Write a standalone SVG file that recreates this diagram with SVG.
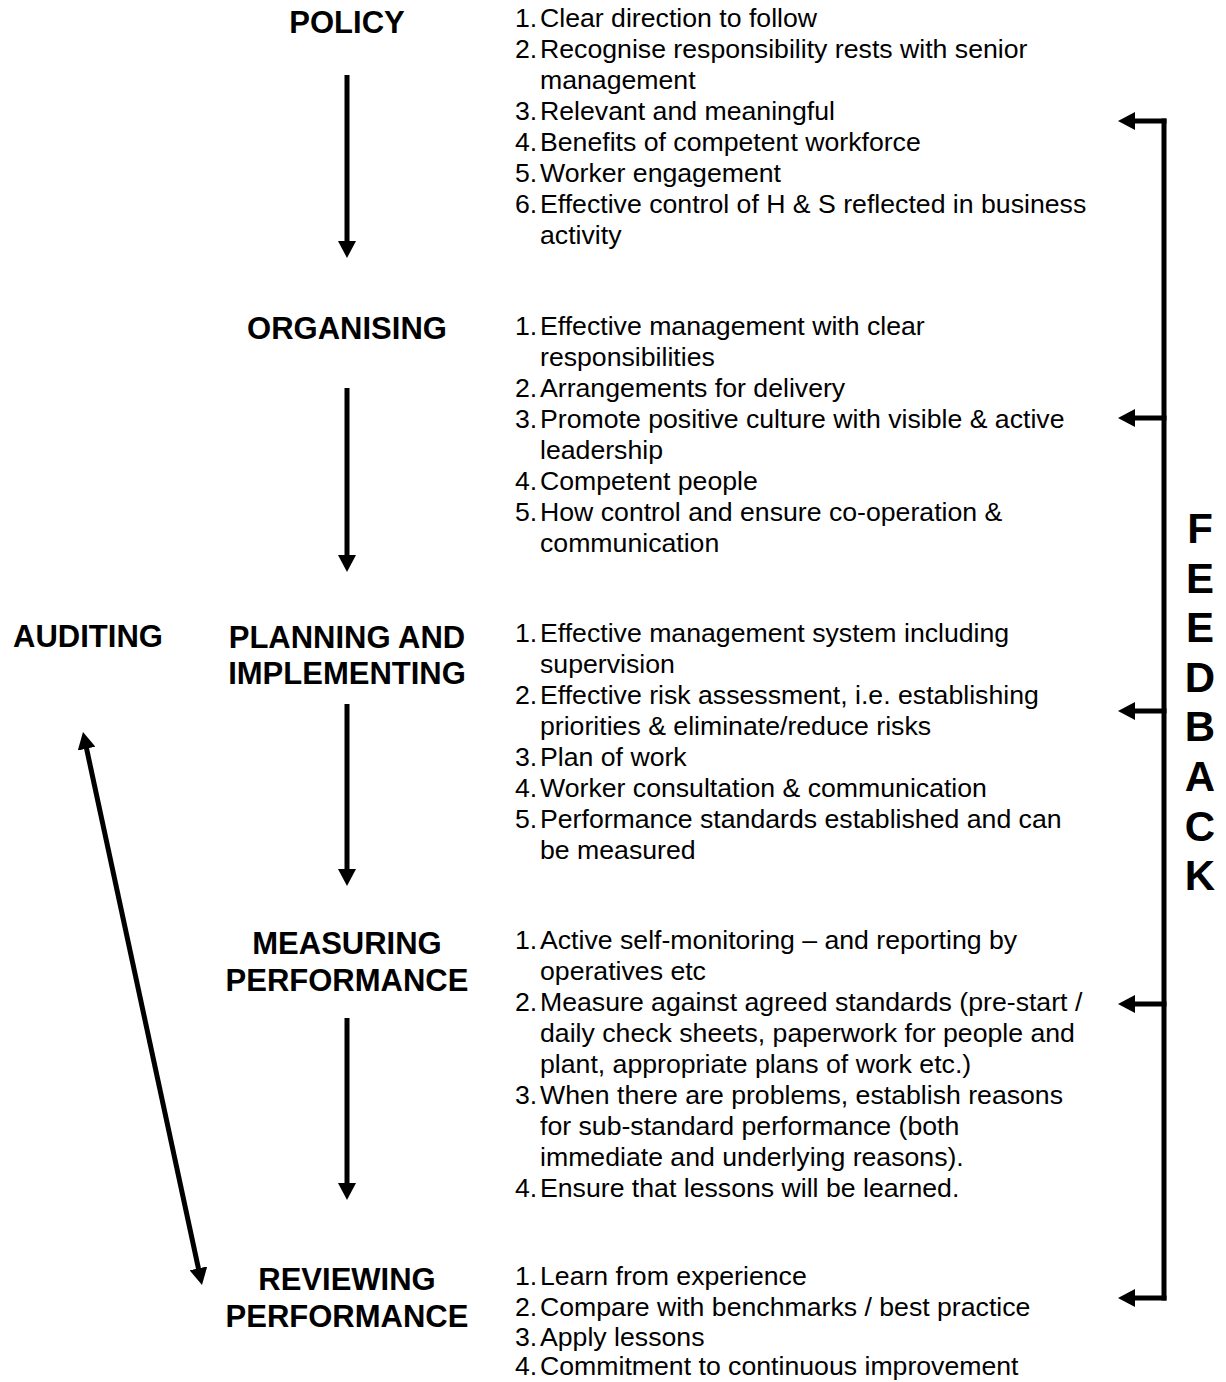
<svg xmlns="http://www.w3.org/2000/svg" width="1226" height="1382" viewBox="0 0 1226 1382">
<defs>
<style>
.lbl{font-family:"Liberation Sans",Arial,sans-serif;font-weight:bold;font-size:31px;fill:#000;text-anchor:middle}
.itm{font-family:"Liberation Sans",Arial,sans-serif;font-size:26.67px;fill:#000}
.fb{font-family:"Liberation Sans",Arial,sans-serif;font-weight:bold;font-size:42px;fill:#000;text-anchor:middle}
.con{stroke:#000;stroke-width:5;fill:none}
</style>
<marker id="ah" viewBox="0 0 17 18" refX="7" refY="9" markerWidth="17" markerHeight="18" markerUnits="userSpaceOnUse" orient="auto-start-reverse">
<path d="M0,0 L17,9 L0,18 z" fill="#000"/>
</marker>
</defs>
<rect width="1226" height="1382" fill="#fff"/>

<g id="connectors">
<line class="con" x1="347" y1="75" x2="347" y2="248" marker-end="url(#ah)"/>
<line class="con" x1="347" y1="388" x2="347" y2="562" marker-end="url(#ah)"/>
<line class="con" x1="347" y1="704" x2="347" y2="876" marker-end="url(#ah)"/>
<line class="con" x1="347" y1="1018" x2="347" y2="1190" marker-end="url(#ah)"/>
<line class="con" x1="85.1" y1="741.8" x2="199.9" y2="1275.2" marker-start="url(#ah)" marker-end="url(#ah)"/>
<g id="feedback-bracket">
<line class="con" x1="1164" y1="118.5" x2="1164" y2="1300.5"/>
<line class="con" x1="1166.5" y1="121" x2="1128" y2="121" marker-end="url(#ah)"/>
<line class="con" x1="1166.5" y1="418" x2="1128" y2="418" marker-end="url(#ah)"/>
<line class="con" x1="1166.5" y1="711" x2="1128" y2="711" marker-end="url(#ah)"/>
<line class="con" x1="1166.5" y1="1004" x2="1128" y2="1004" marker-end="url(#ah)"/>
<line class="con" x1="1166.5" y1="1298" x2="1128" y2="1298" marker-end="url(#ah)"/>
</g>
</g>

<g id="node-policy">
<text class="lbl" x="347" y="33">POLICY</text>
<text class="itm" x="515" y="27">1.</text><text class="itm" x="540" y="27">Clear direction to follow</text>
<text class="itm" x="515" y="58">2.</text><text class="itm" x="540" y="58">Recognise responsibility rests with senior</text>
<text class="itm" x="540" y="89">management</text>
<text class="itm" x="515" y="120">3.</text><text class="itm" x="540" y="120">Relevant and meaningful</text>
<text class="itm" x="515" y="151">4.</text><text class="itm" x="540" y="151">Benefits of competent workforce</text>
<text class="itm" x="515" y="182">5.</text><text class="itm" x="540" y="182">Worker engagement</text>
<text class="itm" x="515" y="213">6.</text><text class="itm" x="540" y="213">Effective control of H &amp; S reflected in business</text>
<text class="itm" x="540" y="244">activity</text>
</g>

<g id="node-organising">
<text class="lbl" x="347" y="339">ORGANISING</text>
<text class="itm" x="515" y="335">1.</text><text class="itm" x="540" y="335">Effective management with clear</text>
<text class="itm" x="540" y="366">responsibilities</text>
<text class="itm" x="515" y="397">2.</text><text class="itm" x="540" y="397">Arrangements for delivery</text>
<text class="itm" x="515" y="428">3.</text><text class="itm" x="540" y="428">Promote positive culture with visible &amp; active</text>
<text class="itm" x="540" y="459">leadership</text>
<text class="itm" x="515" y="490">4.</text><text class="itm" x="540" y="490">Competent people</text>
<text class="itm" x="515" y="521">5.</text><text class="itm" x="540" y="521">How control and ensure co-operation &amp;</text>
<text class="itm" x="540" y="552">communication</text>
</g>

<g id="node-auditing">
<text class="lbl" x="88" y="647">AUDITING</text>
</g>

<g id="node-planning">
<text class="lbl" x="347" y="648">PLANNING AND</text>
<text class="lbl" x="347" y="684">IMPLEMENTING</text>
<text class="itm" x="515" y="642">1.</text><text class="itm" x="540" y="642">Effective management system including</text>
<text class="itm" x="540" y="673">supervision</text>
<text class="itm" x="515" y="704">2.</text><text class="itm" x="540" y="704">Effective risk assessment, i.e. establishing</text>
<text class="itm" x="540" y="735">priorities &amp; eliminate/reduce risks</text>
<text class="itm" x="515" y="766">3.</text><text class="itm" x="540" y="766">Plan of work</text>
<text class="itm" x="515" y="797">4.</text><text class="itm" x="540" y="797">Worker consultation &amp; communication</text>
<text class="itm" x="515" y="828">5.</text><text class="itm" x="540" y="828">Performance standards established and can</text>
<text class="itm" x="540" y="859">be measured</text>
</g>

<g id="node-measuring">
<text class="lbl" x="347" y="954">MEASURING</text>
<text class="lbl" x="347" y="991">PERFORMANCE</text>
<text class="itm" x="515" y="949">1.</text><text class="itm" x="540" y="949">Active self-monitoring – and reporting by</text>
<text class="itm" x="540" y="980">operatives etc</text>
<text class="itm" x="515" y="1011">2.</text><text class="itm" x="540" y="1011">Measure against agreed standards (pre-start /</text>
<text class="itm" x="540" y="1042">daily check sheets, paperwork for people and</text>
<text class="itm" x="540" y="1073">plant, appropriate plans of work etc.)</text>
<text class="itm" x="515" y="1104">3.</text><text class="itm" x="540" y="1104">When there are problems, establish reasons</text>
<text class="itm" x="540" y="1135">for sub-standard performance (both</text>
<text class="itm" x="540" y="1166">immediate and underlying reasons).</text>
<text class="itm" x="515" y="1197">4.</text><text class="itm" x="540" y="1197">Ensure that lessons will be learned.</text>
</g>

<g id="node-reviewing">
<text class="lbl" x="347" y="1290">REVIEWING</text>
<text class="lbl" x="347" y="1327">PERFORMANCE</text>
<text class="itm" x="515" y="1285">1.</text><text class="itm" x="540" y="1285">Learn from experience</text>
<text class="itm" x="515" y="1316">2.</text><text class="itm" x="540" y="1316">Compare with benchmarks / best practice</text>
<text class="itm" x="515" y="1346">3.</text><text class="itm" x="540" y="1346">Apply lessons</text>
<text class="itm" x="515" y="1375">4.</text><text class="itm" x="540" y="1375">Commitment to continuous improvement</text>
</g>

<g id="node-feedback">
<text class="fb" x="1200" y="543">F</text>
<text class="fb" x="1200" y="592.6">E</text>
<text class="fb" x="1200" y="642.2">E</text>
<text class="fb" x="1200" y="691.8">D</text>
<text class="fb" x="1200" y="741.4">B</text>
<text class="fb" x="1200" y="791">A</text>
<text class="fb" x="1200" y="840.6">C</text>
<text class="fb" x="1200" y="890.2">K</text>
</g>
</svg>
